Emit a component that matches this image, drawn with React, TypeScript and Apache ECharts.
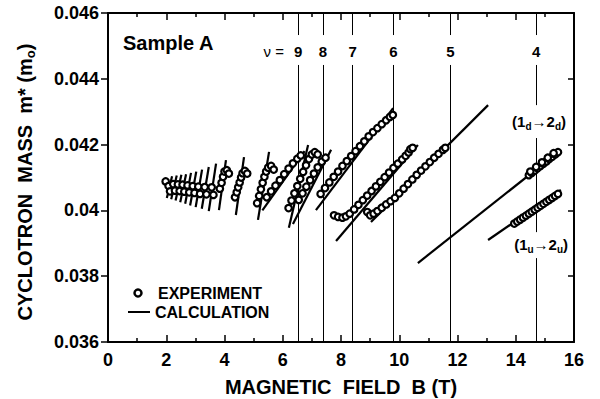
import React, { useEffect, useRef } from 'react';
import * as echarts from 'echarts';

const FONT = '"Liberation Sans", Arial, Helvetica, sans-serif';

// axes
const xRange = [0, 16];
const xStep = 2;
const yRange = [0.036, 0.046];
const yStep = 0.002;

// filling-factor lines
const nuValues = [9, 8, 7, 6, 5, 4];
const nuFields = [6.53, 7.38, 8.4, 9.8, 11.76, 14.7];
const nuLabelMass = 0.04484;
// [B, m0, m1]
const nuLinePieces = [
  [6.53, 0.046, 0.04533], [6.53, 0.04442, 0.036],
  [7.38, 0.046, 0.04533], [7.38, 0.04442, 0.036],
  [8.4, 0.046, 0.04533], [8.4, 0.04442, 0.036],
  [9.8, 0.046, 0.04533], [9.8, 0.04442, 0.036],
  [11.76, 0.046, 0.04533], [11.76, 0.04442, 0.036],
  [14.7, 0.046, 0.04533], [14.7, 0.04442, 0.0432],
  [14.7, 0.0422, 0.03934], [14.7, 0.03855, 0.036],
];

// calculation segments [B0, m0, B1, m1]
const lowFieldCalc = [
  [2.02, 0.04038, 2.2, 0.04104],
  [2.17, 0.04034, 2.36, 0.04106],
  [2.32, 0.0403, 2.52, 0.04108],
  [2.48, 0.04025, 2.68, 0.0411],
  [2.65, 0.0402, 2.85, 0.04114],
  [2.82, 0.04015, 3.03, 0.04118],
  [3.01, 0.0401, 3.23, 0.04124],
  [3.22, 0.04005, 3.46, 0.04132],
  [3.46, 0.03998, 3.71, 0.04142],
  [3.81, 0.04001, 4.05, 0.04153],
];
const midFieldCalc = [
  [4.39, 0.03986, 4.67, 0.04162],
  [5.15, 0.03971, 5.53, 0.04178],
  [5.3, 0.04, 6.75, 0.0418],
  [6.21, 0.03947, 6.87, 0.04199],
  [6.35, 0.03959, 7.66, 0.04184],
  [7.14, 0.04001, 9.79, 0.04311],
  [7.83, 0.03907, 10.64, 0.04199],
];
const highFieldCalc = [
  [9.03, 0.03965, 13.05, 0.0432],
  [10.64, 0.0384, 15.55, 0.04184],
  [13.05, 0.0391, 15.55, 0.04062],
];

// experiment [B, m]
const lowFieldExp = [
  [1.98, 0.04088], [2.08, 0.04074], [2.13, 0.04058],
  [2.24, 0.0408], [2.3, 0.0406],
  [2.4, 0.04079], [2.46, 0.04059],
  [2.56, 0.04078], [2.62, 0.04057],
  [2.73, 0.04076], [2.79, 0.04055],
  [2.91, 0.04074], [2.97, 0.04053],
  [3.1, 0.04072], [3.16, 0.0405],
  [3.32, 0.04071], [3.38, 0.04049],
  [3.56, 0.0407], [3.62, 0.04047],
  [3.84, 0.04066], [3.9, 0.04084], [3.95, 0.04102], [4.0, 0.04118], [4.08, 0.04122], [4.15, 0.04112],
];
const midFieldExp = [
  [4.36, 0.0404], [4.42, 0.04055], [4.47, 0.0407], [4.52, 0.04085], [4.57, 0.041], [4.62, 0.04113], [4.7, 0.0412], [4.78, 0.04112],
  [5.12, 0.04022], [5.19, 0.04044], [5.25, 0.04064], [5.31, 0.04084], [5.37, 0.04102], [5.43, 0.04118], [5.5, 0.0413], [5.6, 0.04135], [5.69, 0.04124],
  [5.45, 0.0404], [5.6, 0.04058], [5.75, 0.04075], [5.9, 0.04092], [6.05, 0.0411], [6.2, 0.04127], [6.35, 0.04143], [6.5, 0.04157], [6.62, 0.04167],
  [6.2, 0.04007], [6.3, 0.0403], [6.4, 0.04052], [6.5, 0.04074], [6.6, 0.04096], [6.7, 0.04117], [6.8, 0.04137], [6.9, 0.04156], [7.0, 0.0417], [7.1, 0.04177], [7.2, 0.0417],
  [6.55, 0.04032], [6.68, 0.04052], [6.81, 0.04072], [6.94, 0.04092], [7.07, 0.04112], [7.2, 0.04131], [7.34, 0.04148], [7.47, 0.0416],
  [7.3, 0.0405], [7.45, 0.04068], [7.6, 0.04085], [7.75, 0.04102], [7.9, 0.04118], [8.05, 0.04135], [8.2, 0.0415], [8.35, 0.04165], [8.5, 0.0418],
  [8.65, 0.04195], [8.8, 0.0421], [8.95, 0.04225], [9.1, 0.04238], [9.25, 0.0425], [9.4, 0.04262], [9.55, 0.04274], [9.68, 0.04284], [9.78, 0.0429],
  [7.76, 0.03985], [7.9, 0.0398], [8.05, 0.03978], [8.17, 0.03982], [8.3, 0.0399], [8.45, 0.04003], [8.6, 0.04017], [8.75, 0.04031], [8.9, 0.04045],
  [9.05, 0.04059], [9.2, 0.04073], [9.35, 0.04087], [9.5, 0.04101], [9.65, 0.04115], [9.8, 0.04129], [9.95, 0.04142], [10.1, 0.04155], [10.22, 0.04166],
  [10.32, 0.04176], [10.38, 0.04186], [10.46, 0.0419],
];
const highFieldExp = [
  [8.9, 0.03995], [9.0, 0.03985], [9.12, 0.0399], [9.25, 0.03998], [9.4, 0.04008], [9.55, 0.04018], [9.7, 0.04028], [9.85, 0.04038],
  [10.0, 0.04052], [10.15, 0.04066], [10.3, 0.0408], [10.45, 0.04094], [10.6, 0.04108], [10.75, 0.04121], [10.9, 0.04134], [11.05, 0.04147],
  [11.2, 0.0416], [11.35, 0.04172], [11.5, 0.04184], [11.58, 0.0419],
  [14.45, 0.04107], [14.55, 0.04114], [14.65, 0.04121], [14.75, 0.04128], [14.85, 0.04135], [14.95, 0.04142], [15.05, 0.04149],
  [15.15, 0.04156], [15.25, 0.04163], [15.35, 0.0417], [15.45, 0.04177],
  [14.5, 0.04118], [14.7, 0.04132], [14.9, 0.04146], [15.1, 0.0416], [15.3, 0.04174],
  [13.95, 0.0396], [14.05, 0.03966], [14.15, 0.03972], [14.25, 0.03978], [14.35, 0.03984], [14.45, 0.0399], [14.55, 0.03996],
  [14.65, 0.04002], [14.75, 0.04008], [14.85, 0.04014], [14.95, 0.0402], [15.05, 0.04026], [15.15, 0.04032], [15.25, 0.04038],
  [15.35, 0.04044], [15.45, 0.0405],
];

// text labels positioned in data space
const nuPrefix = { text: 'ν =', B: 6.04, m: 0.04484 };
const transitionLabels = [
  { text: '(1{s|d}→2{s|d})', B: 14.8, m: 0.04269 },
  { text: '(1{s|u}→2{s|u})', B: 14.87, m: 0.03895 },
];

export default function App() {
  const ref = useRef<HTMLDivElement>(null);
  useEffect(() => {
    const chart = echarts.init(ref.current!, null, { renderer: 'svg' });
    const toLines = (segs: number[][]) => segs.map((s) => ({ coords: [[s[0], s[1]], [s[2], s[3]]] }));
    const nuLines = nuLinePieces.map((p) => ({ coords: [[p[0], p[1]], [p[0], p[2]]] }));
    const sub = { fontSize: 10, fontWeight: 'bold', fontFamily: FONT, color: '#000', opacity: 1, padding: [9, 0, 0, 0] };

    const labelData: any[] = nuValues.map((v, i) => ({
      value: [nuFields[i], nuLabelMass],
      label: { formatter: String(v) },
    }));
    labelData.push({
      value: [nuPrefix.B, nuPrefix.m],
      label: { formatter: nuPrefix.text, fontWeight: 'normal', align: 'right' },
    });
    transitionLabels.forEach((t) => {
      labelData.push({ value: [t.B, t.m], label: { formatter: t.text, fontSize: 15, rich: { s: sub } } });
    });

    const axisLine = { show: true, onZero: false, lineStyle: { color: '#000', width: 2 } };

    const option: any = {
      animation: false,
      backgroundColor: '#fff',
      grid: { left: 108, right: 26, top: 13, bottom: 57, containLabel: false },
      xAxis: [
        {
          type: 'value', min: xRange[0], max: xRange[1], interval: xStep, position: 'bottom',
          axisLine,
          axisTick: { show: true, inside: true, length: 7, lineStyle: { color: '#000', width: 1.5 } },
          minorTick: { show: true, splitNumber: 2, length: 4, lineStyle: { color: '#000', width: 1.5 } },
          splitLine: { show: false },
          axisLabel: { color: '#000', fontSize: 18, fontWeight: 'bold', fontFamily: FONT, margin: 9 },
        },
        {
          type: 'value', min: xRange[0], max: xRange[1], interval: xStep, position: 'top',
          axisLine,
          axisTick: { show: true, inside: true, length: 7, lineStyle: { color: '#000', width: 1.5 } },
          minorTick: { show: true, splitNumber: 2, length: 4, lineStyle: { color: '#000', width: 1.5 } },
          splitLine: { show: false },
          axisLabel: { show: false },
        },
      ],
      yAxis: [
        {
          type: 'value', min: yRange[0], max: yRange[1], interval: yStep, position: 'left',
          axisLine,
          axisTick: { show: true, inside: false, length: 7, lineStyle: { color: '#000', width: 1.5 } },
          splitLine: { show: false },
          axisLabel: {
            color: '#000', fontSize: 18, fontWeight: 'bold', fontFamily: FONT, margin: 9,
            formatter: (v: number) => String(Number(v.toFixed(3))),
          },
        },
        {
          type: 'value', min: yRange[0], max: yRange[1], interval: yStep, position: 'right',
          axisLine,
          axisTick: { show: true, inside: true, length: 6, lineStyle: { color: '#000', width: 1.5 } },
          splitLine: { show: false },
          axisLabel: { show: false },
        },
      ],
      series: [
        {
          name: 'nu', type: 'lines', coordinateSystem: 'cartesian2d', silent: true, z: 2,
          lineStyle: { color: '#000', width: 1, opacity: 1 },
          data: nuLines,
        },
        {
          name: 'CALCULATION', type: 'lines', coordinateSystem: 'cartesian2d', silent: true, z: 3,
          lineStyle: { color: '#000', width: 2.2, opacity: 1 },
          data: [...toLines(lowFieldCalc), ...toLines(midFieldCalc), ...toLines(highFieldCalc)],
        },
        {
          name: 'EXPERIMENT', type: 'scatter', silent: true, z: 4,
          symbol: 'circle', symbolSize: 6.5,
          itemStyle: { color: '#fff', borderColor: '#000', borderWidth: 2.2, opacity: 1 },
          data: [...lowFieldExp, ...midFieldExp, ...highFieldExp],
        },
        {
          name: 'labels', type: 'scatter', silent: true, z: 6,
          symbol: 'circle', symbolSize: 0, itemStyle: { color: '#000', opacity: 1 },
          label: {
            show: true, position: 'inside', color: '#000', opacity: 1, fontSize: 15, fontWeight: 'bold', fontFamily: FONT,
          },
          data: labelData,
        },
      ],
      graphic: [
        {
          type: 'text', x: 123, y: 43,
          style: { text: 'Sample A', font: `bold 20px ${FONT}`, fill: '#000', align: 'left', verticalAlign: 'middle', textAlign: 'left', textVerticalAlign: 'middle' },
        },
        {
          type: 'circle', shape: { cx: 138, cy: 293, r: 3.5 },
          style: { fill: '#fff', stroke: '#000', lineWidth: 2.5 },
        },
        {
          type: 'text', x: 158, y: 293,
          style: { text: 'EXPERIMENT', font: `bold 16px ${FONT}`, fill: '#000', align: 'left', verticalAlign: 'middle', textAlign: 'left', textVerticalAlign: 'middle' },
        },
        {
          type: 'line', shape: { x1: 128, y1: 312, x2: 150, y2: 312 },
          style: { stroke: '#000', lineWidth: 2 },
        },
        {
          type: 'text', x: 155, y: 312,
          style: { text: 'CALCULATION', font: `bold 16px ${FONT}`, fill: '#000', align: 'left', verticalAlign: 'middle', textAlign: 'left', textVerticalAlign: 'middle' },
        },
        {
          type: 'text', x: 341, y: 387,
          style: { text: 'MAGNETIC  FIELD  B (T)', font: `bold 20px ${FONT}`, fill: '#000', align: 'center', verticalAlign: 'middle', textAlign: 'center', textVerticalAlign: 'middle' },
        },
        {
          type: 'text', x: 25, y: 182, rotation: Math.PI / 2,
          style: {
            text: 'CYCLOTRON  MASS  m* (m{s|o})',
            font: `bold 20px ${FONT}`, fontSize: 20, fontWeight: 'bold', fontFamily: FONT,
            fill: '#000', align: 'center', verticalAlign: 'middle', textAlign: 'center', textVerticalAlign: 'middle',
            rich: { s: { fontSize: 13, fontWeight: 'bold', fontFamily: FONT, fill: '#000', padding: [10, 0, 0, 0] } },
          },
        },
      ],
    };
    chart.setOption(option);
    return () => chart.dispose();
  }, []);
  return (
    <div
      ref={ref}
      style={{ position: 'fixed', left: 0, top: 0, width: 600, height: 399, background: '#fff' }}
    />
  );
}
